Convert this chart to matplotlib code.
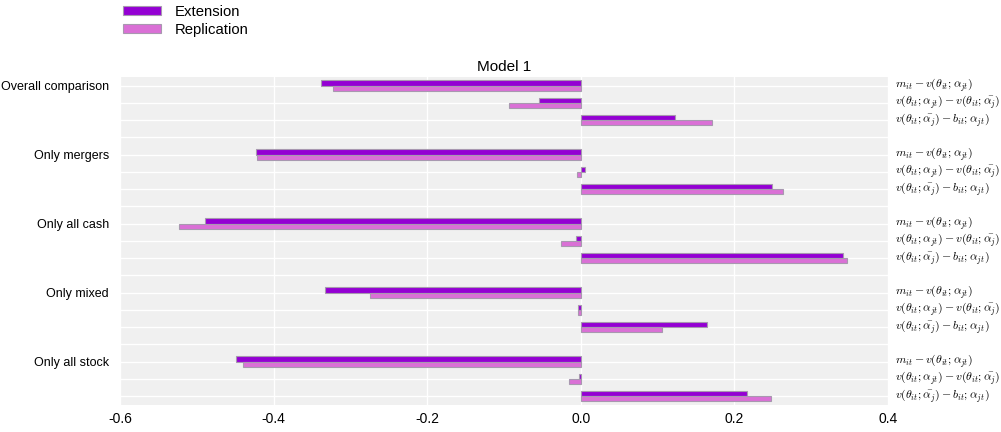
import numpy as np
import matplotlib
matplotlib.use('Agg')
from matplotlib import pyplot as plt
import matplotlib.transforms as mtransforms

plt.rcParams['font.family'] = ['Liberation Sans', 'DejaVu Sans']
plt.rcParams['mathtext.fontset'] = 'cm'
plt.rcParams['axes.unicode_minus'] = False

groups = ['Overall comparison', 'Only mergers', 'Only all cash', 'Only mixed', 'Only all stock']
terms = [r'$m_{it} - v(\theta_{it};\alpha_{jt})$',
         r'$v(\theta_{it};\alpha_{jt}) - v(\theta_{it};\bar{\alpha_j})$',
         r'$v(\theta_{it};\bar{\alpha_j}) - b_{it};\alpha_{jt})$']
extension = [[-0.338, -0.055, 0.123],
             [-0.423, 0.006, 0.249],
             [-0.490, -0.006, 0.341],
             [-0.333, -0.003, 0.164],
             [-0.449, -0.002, 0.216]]
replication = [[-0.323, -0.093, 0.171],
               [-0.422, -0.005, 0.263],
               [-0.523, -0.026, 0.347],
               [-0.275, -0.004, 0.106],
               [-0.440, -0.015, 0.248]]

fig = plt.figure(figsize=(10.01, 4.32), dpi=100)
ax = fig.add_axes([0.120, 0.063, 0.767, 0.759])
ax.set_facecolor('#f0f0f0')

h = 0.3
nrows = len(groups) * 4 - 1
for g in range(len(groups)):
    for k in range(3):
        y = g * 4 + k
        ax.barh(y - h / 2, extension[g][k], height=h, color='#9400d3',
                edgecolor='#a898b0', linewidth=0.8,
                label='Extension' if (g == 0 and k == 0) else None)
        ax.barh(y + h / 2, replication[g][k], height=h, color='#da70d6',
                edgecolor='#a898b0', linewidth=0.8,
                label='Replication' if (g == 0 and k == 0) else None)

ax.set_ylim(nrows - 0.5, -0.5)
ax.set_xlim(-0.6, 0.4)
ax.set_xticks([-0.6, -0.4, -0.2, 0.0, 0.2, 0.4])
ax.set_yticks(range(nrows))
ylabels = [''] * nrows
for g, name in enumerate(groups):
    ylabels[g * 4] = name
ax.set_yticklabels(ylabels)
ax.tick_params(axis='x', length=0, labelsize=10, pad=5)
ax.tick_params(axis='y', length=0, labelsize=9, pad=8)
ax.grid(True, color='white', linewidth=1)
ax.set_axisbelow(True)
for s in ax.spines.values():
    s.set_visible(False)

trans = mtransforms.blended_transform_factory(ax.transAxes, ax.transData)
for g in range(len(groups)):
    for k in range(3):
        ax.text(1.009, g * 4 + k, terms[k], transform=trans, va='center',
                ha='left', fontsize=8.5)

ax.set_title('Model 1', fontsize=11, pad=4)
fig.legend(loc='upper left', bbox_to_anchor=(0.110, 1.02), frameon=False,
           fontsize=10.7, handlelength=2.55, handleheight=0.55,
           labelspacing=0.3, handletextpad=0.87)

fig.savefig('out.png', dpi=100)
